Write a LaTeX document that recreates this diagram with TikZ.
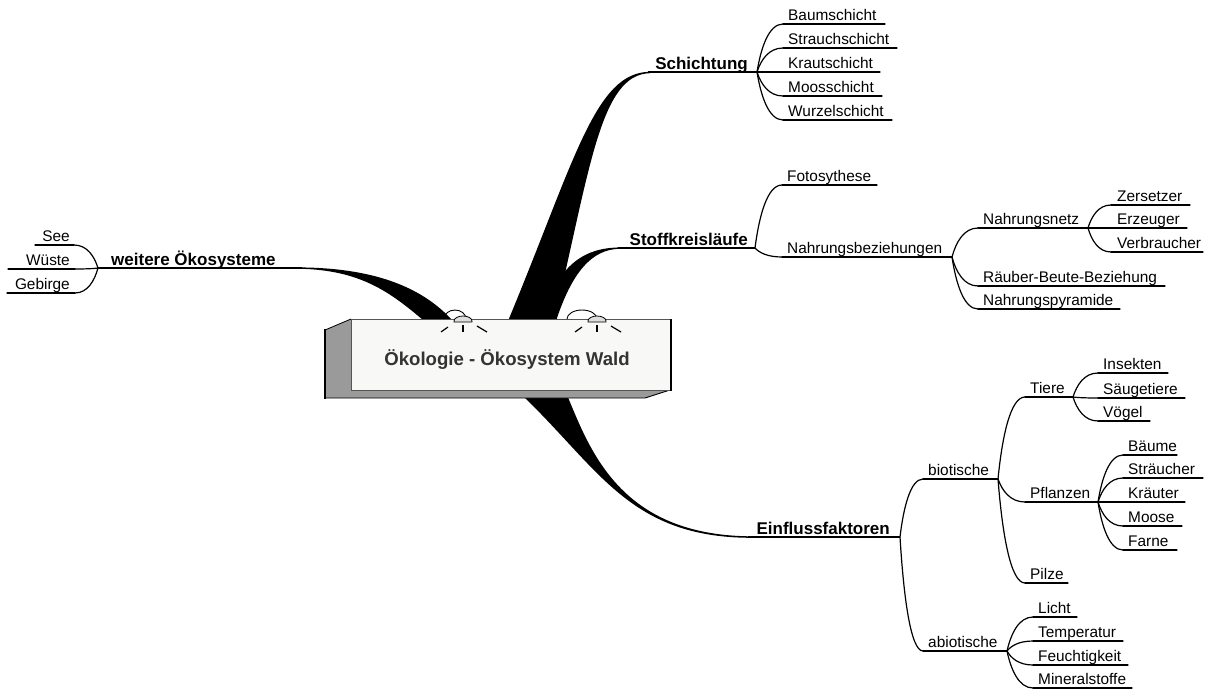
\documentclass[tikz,border=0pt]{standalone}
\usepackage{fontspec}
\setmainfont{Liberation Sans}
\usetikzlibrary{calc}
\definecolor{facec}{HTML}{F8F8F6}
\definecolor{sidec}{HTML}{9A9A9A}
\definecolor{titlec}{HTML}{333333}
\definecolor{domec}{HTML}{DDDDDD}
\definecolor{edgec}{HTML}{555555}
\tikzset{
  sublbl/.style={font=\fontsize{15.4}{18}\selectfont, inner sep=0pt},
  mainlbl/.style={font=\fontsize{17}{20}\selectfont\bfseries, inner sep=0pt},
  titlelbl/.style={font=\fontsize{18.6}{22}\selectfont\bfseries, text=titlec, inner sep=0pt},
  uline/.style={line width=1.2pt, line cap=round},
  mline/.style={line width=1.6pt},
  rayline/.style={line width=1.2pt},
  cv/.style={to path={let \p1=(\tikztostart), \p2=(\tikztotarget) in
     .. controls ({\x1+0.15*(\x2-\x1)},{\y1+0.5*(\y2-\y1)}) and ({\x1+0.45*(\x2-\x1)},\y2) .. (\tikztotarget) \tikztonodes}},
}
% name, text x, underline y, left x, right x, text
\newcommand\mmsub[6]{%
  \node[sublbl, anchor=base west] (#1) at (#2,#3-3.5) {#6};
  \coordinate (#1-l) at (#4,#3);
  \coordinate (#1-r) at (#5,#3);
  \draw[uline] (#1-l) -- (#1-r);
}
% name, text right x, underline y, left x, right x, text
\newcommand\mmleft[6]{%
  \node[sublbl, anchor=base east] (#1) at (#2,#3-3.5) {#6};
  \coordinate (#1-l) at (#4,#3);
  \coordinate (#1-r) at (#5,#3);
  \draw[uline] (#1-l) -- (#1-r);
}
% lamp: dome x, arc centre x, arc x radius
\newcommand\mmlamp[3]{%
  \draw[line width=0.9pt] (#2+#3,319) arc[start angle=0, end angle=180, x radius=#3pt, y radius=9pt];
  \filldraw[fill=domec, draw=black, line width=0.8pt] (#1-9,322) -- (#1+9,322) -- (#1+9,321)
     arc[start angle=0, end angle=180, x radius=9pt, y radius=5pt] -- cycle;
  \draw[rayline] (#1-22,332) -- (#1-15,327);
  \draw[rayline] (#1,325) -- (#1,332);
  \draw[rayline] (#1+14,326) -- (#1+24,332);
}
\begin{document}
\begin{tikzpicture}[x=1pt, y=-1pt]
\useasboundingbox (0,0) rectangle (1212,691);

% ---------- thick tapered main branches ----------
\fill (508,321) .. controls (575,160) and (595,72) .. (650,71.8) -- (650,73.2)
      .. controls (600,74) and (590,170) .. (554,321) -- cycle;
\fill (538,321) .. controls (560,262) and (585,248) .. (620,247.4) -- (620,248.8)
      .. controls (592,249) and (572,272) .. (556,321) -- cycle;
\fill (452,320) .. controls (420,285) and (370,268) .. (300,267.4) -- (300,268.8)
      .. controls (360,270) and (390,292) .. (423,320) -- cycle;
\fill (522,395) .. controls (600,470) and (630,537) .. (750,537.8) -- (750,536.3)
      .. controls (620,535) and (590,450) .. (567,395) -- cycle;

% ---------- central box ----------
\fill[sidec] (325,330) -- (351,319) -- (351,390) -- (670,390) -- (645,398) -- (325,398) -- cycle;
\draw[line width=0.8pt] (325,330) -- (351,319);
\draw[line width=0.9pt] (325,398) -- (645,398) -- (670,390);
\draw[line width=2.2pt] (325,329) -- (325,399);
\node[draw=edgec, fill=facec, line width=0.8pt, minimum width=319pt, minimum height=71pt,
      inner sep=0pt, anchor=north west] (box) at (351,319) {};
\draw[line width=2.4pt] ([xshift=0.4pt]box.north east) -- ([xshift=0.4pt]box.south east);
\node[titlelbl, anchor=base] (title) at (507,365) {Ökologie - Ökosystem Wald};
\mmlamp{463}{455}{11}
\mmlamp{597}{582}{15}

% ---------- main topics ----------
\node[mainlbl, anchor=base east] (sch) at (748,69) {Schichtung};
\coordinate (sch-l) at (648,72); \coordinate (sch-r) at (757,72);
\draw[mline] (sch-l) -- (sch-r);

\node[mainlbl, anchor=base east] (sto) at (748,245) {Stoffkreisläufe};
\coordinate (sto-l) at (618,248); \coordinate (sto-r) at (755,248);
\draw[mline] (sto-l) -- (sto-r);

\node[mainlbl, anchor=base east] (ein) at (890,534) {Einflussfaktoren};
\coordinate (ein-l) at (748,537); \coordinate (ein-r) at (900,537);
\draw[mline] (ein-l) -- (ein-r);

\node[mainlbl, anchor=base west] (wei) at (111,265) {weitere Ökosysteme};
\coordinate (wei-l) at (98,268); \coordinate (wei-r) at (302,268);
\draw[mline] (wei-l) -- (wei-r);

% ---------- weitere Ökosysteme ----------
\mmleft{see}{70}{245}{35}{74}{See}
\mmleft{wue}{70}{269}{8}{75}{Wüste}
\mmleft{geb}{70}{293}{7}{75}{Gebirge}
\foreach \c in {see,wue,geb} \draw[uline] (wei-l) to[cv] (\c-r);

% ---------- Schichtung ----------
\mmsub{baum}{788}{24}{783}{885}{Baumschicht}
\mmsub{stra}{788}{48}{783}{897}{Strauchschicht}
\mmsub{krau}{788}{72}{783}{880}{Krautschicht}
\mmsub{moos}{788}{96}{783}{882}{Moosschicht}
\mmsub{wurz}{788}{120}{783}{892}{Wurzelschicht}
\foreach \c in {baum,stra,krau,moos,wurz} \draw[uline] (sch-r) to[cv] (\c-l);

% ---------- Stoffkreisläufe ----------
\mmsub{foto}{787}{185}{782}{877}{Fotosythese}
\mmsub{nbez}{787}{257}{782}{952}{Nahrungsbeziehungen}
\foreach \c in {foto,nbez} \draw[uline] (sto-r) to[cv] (\c-l);

\mmsub{nnetz}{983}{228}{978}{1088}{Nahrungsnetz}
\mmsub{raeu}{983}{286}{978}{1165}{Räuber-Beute-Beziehung}
\mmsub{npyr}{983}{309}{978}{1120}{Nahrungspyramide}
\foreach \c in {nnetz,raeu,npyr} \draw[uline] (nbez-r) to[cv] (\c-l);

\mmsub{zers}{1117}{205}{1111}{1190}{Zersetzer}
\mmsub{erze}{1117}{228}{1111}{1187}{Erzeuger}
\mmsub{verb}{1117}{252}{1111}{1203}{Verbraucher}
\foreach \c in {zers,erze,verb} \draw[uline] (nnetz-r) to[cv] (\c-l);

% ---------- Einflussfaktoren ----------
\mmsub{bio}{928}{479}{923}{998}{biotische}
\mmsub{abio}{928}{651}{923}{1007}{abiotische}
\foreach \c in {bio,abio} \draw[uline] (ein-r) to[cv] (\c-l);

\mmsub{tier}{1030}{397}{1025}{1073}{Tiere}
\mmsub{pfla}{1030}{502}{1025}{1098}{Pflanzen}
\mmsub{pilz}{1030}{583}{1025}{1068}{Pilze}
\foreach \c in {tier,pfla,pilz} \draw[uline] (bio-r) to[cv] (\c-l);

\mmsub{inse}{1103}{373}{1098}{1168}{Insekten}
\mmsub{saeu}{1103}{398}{1098}{1185}{Säugetiere}
\mmsub{voeg}{1103}{421}{1098}{1150}{Vögel}
\foreach \c in {inse,saeu,voeg} \draw[uline] (tier-r) to[cv] (\c-l);

\mmsub{baeu}{1128}{455}{1123}{1177}{Bäume}
\mmsub{strae}{1128}{478}{1123}{1203}{Sträucher}
\mmsub{krae}{1128}{502}{1123}{1185}{Kräuter}
\mmsub{mose}{1128}{526}{1123}{1182}{Moose}
\mmsub{farn}{1128}{550}{1123}{1177}{Farne}
\foreach \c in {baeu,strae,krae,mose,farn} \draw[uline] (pfla-r) to[cv] (\c-l);

\mmsub{lich}{1038}{617}{1033}{1077}{Licht}
\mmsub{temp}{1038}{641}{1033}{1123}{Temperatur}
\mmsub{feuc}{1038}{665}{1033}{1128}{Feuchtigkeit}
\mmsub{mine}{1038}{688}{1033}{1132}{Mineralstoffe}
\foreach \c in {lich,temp,feuc,mine} \draw[uline] (abio-r) to[cv] (\c-l);
\end{tikzpicture}
\end{document}
